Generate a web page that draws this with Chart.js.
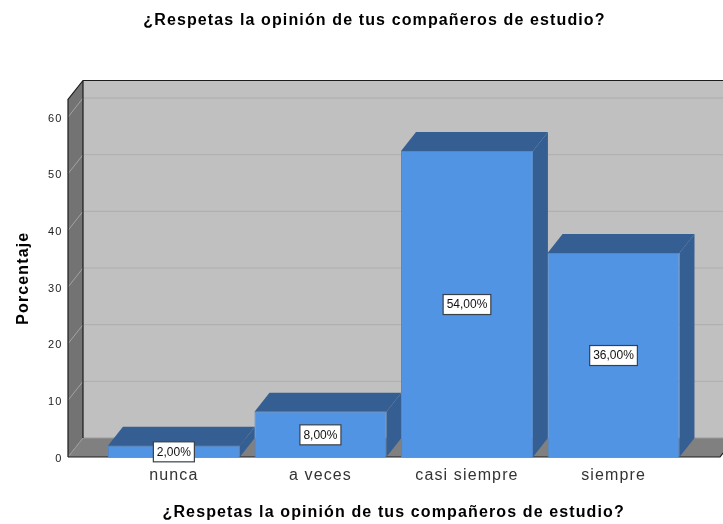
<!DOCTYPE html>
<html><head><meta charset="utf-8">
<style>html,body{margin:0;padding:0;background:#fff}canvas{display:block}</style>
<script src="https://cdn.jsdelivr.net/npm/chart.js@4"></script>
</head><body><canvas id="c" width="723" height="524"></canvas>
<script>
const chartTitle = '¿Respetas la opinión de tus compañeros de estudio?';
const categories = ['nunca', 'a veces', 'casi siempre', 'siempre'];
const percentages = [2, 8, 54, 36];
const yTicks = [0, 10, 20, 30, 40, 50, 60];
const yTitle = 'Porcentaje';

const DX = 15, DY = 19, WALL_LEFT = 32.6, FLOOR_RIGHT = 33.2;
const poly = (ctx, pts, fill) => {
  ctx.beginPath();
  pts.forEach((p, i) => i ? ctx.lineTo(p[0], p[1]) : ctx.moveTo(p[0], p[1]));
  ctx.closePath();
  ctx.fillStyle = fill;
  ctx.fill();
};
const box3d = {
  id: 'box3d',
  beforeDraw(chart) { chart.ctx.letterSpacing = '1.12px'; },
  afterLayout(chart) { chart.titleBlock.left = 62.2; },
  beforeDatasetsDraw(chart) {
    const ctx = chart.ctx, a = chart.chartArea, y = chart.scales.y;
    const L = a.left - WALL_LEFT, R = a.right + FLOOR_RIGHT;
    const T = a.top, B = y.getPixelForValue(0);
    ctx.save();
    poly(ctx, [[L + DX, T - DY], [chart.width, T - DY], [chart.width, B - DY], [L + DX, B - DY]], '#c0c0c0');
    poly(ctx, [[L, T], [L + DX, T - DY], [L + DX, B - DY], [L, B]], '#737373');
    poly(ctx, [[L, B], [L + DX, B - DY], [R + DX, B - DY], [R, B]], '#808080');
    ctx.lineWidth = 1;
    yTicks.forEach(v => {
      if (v === 0) return;
      const p = y.getPixelForValue(v);
      ctx.strokeStyle = '#a3a3a3';
      ctx.beginPath(); ctx.moveTo(L, p); ctx.lineTo(L + DX, p - DY); ctx.stroke();
      ctx.strokeStyle = '#adadad';
      ctx.beginPath(); ctx.moveTo(L + DX, p - DY); ctx.lineTo(chart.width, p - DY); ctx.stroke();
    });
    ctx.strokeStyle = '#9a9a9a';
    ctx.beginPath();
    ctx.moveTo(L, B); ctx.lineTo(L + DX, B - DY);
    ctx.moveTo(L + DX, B - DY); ctx.lineTo(chart.width, B - DY);
    ctx.stroke();
    ctx.strokeStyle = '#1c1c1c';
    ctx.lineWidth = 1.2;
    ctx.beginPath();
    ctx.moveTo(L, B); ctx.lineTo(L, T); ctx.lineTo(L + DX, T - DY); ctx.lineTo(chart.width, T - DY);
    ctx.moveTo(L + DX, T - DY); ctx.lineTo(L + DX, B - DY);
    ctx.moveTo(L, B); ctx.lineTo(R, B); ctx.lineTo(R + 3, B - 4);
    ctx.stroke();
    chart.getDatasetMeta(0).data.forEach(bar => {
      const p = bar.getProps(['x', 'y', 'base', 'width'], true);
      const l = p.x - p.width / 2, r = p.x + p.width / 2;
      poly(ctx, [[l, p.y], [l + DX, p.y - DY], [r + DX, p.y - DY], [r, p.y]], '#355f92');
      poly(ctx, [[r, p.y], [r + DX, p.y - DY], [r + DX, p.base - DY], [r, p.base]], '#355f92');
    });
    ctx.restore();
  },
  afterDatasetsDraw(chart) {
    const ctx = chart.ctx;
    ctx.save();
    ctx.letterSpacing = '0px';
    ctx.font = '12px "Liberation Sans"';
    ctx.textAlign = 'center';
    ctx.textBaseline = 'middle';
    chart.getDatasetMeta(0).data.forEach((bar, i) => {
      const p = bar.getProps(['x', 'y', 'base'], true);
      const txt = percentages[i].toFixed(2).replace('.', ',') + '%';
      const w = ctx.measureText(txt).width + 7, h = 20;
      const cy = (p.y + p.base) / 2 + 0.5;
      ctx.fillStyle = '#fff';
      ctx.strokeStyle = '#3a4048';
      ctx.lineWidth = 1.2;
      ctx.fillRect(p.x - w / 2, cy - h / 2, w, h);
      ctx.strokeRect(p.x - w / 2, cy - h / 2, w, h);
      ctx.fillStyle = '#111';
      ctx.fillText(txt, p.x, cy + 0.5);
    });
    ctx.restore();
  }
};

new Chart(document.getElementById('c'), {
  type: 'bar',
  data: {
    labels: categories,
    datasets: [{
      data: percentages,
      backgroundColor: '#5294e4',
      borderColor: '#4f88cc',
      borderWidth: 1,
      barPercentage: 1,
      categoryPercentage: 0.9,
      clip: false
    }]
  },
  options: {
    responsive: false,
    animation: false,
    layout: { padding: { left: 0, right: 36.2, top: 0, bottom: 0 } },
    plugins: {
      legend: { display: false },
      tooltip: { enabled: false },
      title: {
        display: true,
        text: chartTitle,
        color: '#000',
        font: { family: '"Liberation Sans"', size: 16, weight: 'bold' },
        padding: { top: 11, bottom: 69.3 }
      }
    },
    scales: {
      x: {
        grid: { display: false, drawTicks: false },
        border: { display: false },
        ticks: { color: '#333', font: { family: '"Liberation Sans"', size: 16 }, padding: 9, maxRotation: 0 },
        title: { display: true, text: chartTitle, color: '#000', font: { family: '"Liberation Sans"', size: 16, weight: 'bold' }, padding: { top: 19, bottom: 2 } },
        afterFit(s) { s.height = 67; }
      },
      y: {
        min: 0,
        max: 63.1,
        grid: { display: false, drawTicks: false },
        border: { display: false },
        ticks: { stepSize: 10, includeBounds: false, labelOffset: 1.5, color: '#222', font: { family: '"Liberation Sans"', size: 11 }, padding: 38 },
        title: { display: true, text: yTitle, color: '#000', font: { family: '"Liberation Sans"', size: 16, weight: 'bold' }, padding: { top: 14, bottom: 0 } },
        afterFit(s) { s.width = 100.6; }
      }
    }
  },
  plugins: [box3d]
});
</script></body></html>
